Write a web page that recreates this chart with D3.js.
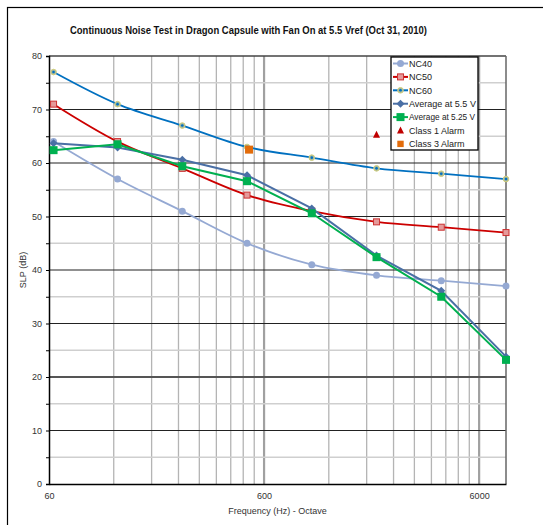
<!DOCTYPE html>
<html><head><meta charset="utf-8">
<script src="https://cdn.jsdelivr.net/npm/d3@7"></script>
<style>body{margin:0;background:#fff}svg{display:block;font-family:"Liberation Sans",Arial,sans-serif}</style>
</head><body>
<script>
const freqs = [63, 125, 250, 500, 1000, 2000, 4000, 8000];
const nc40 = [64, 57, 51, 45, 41, 39, 38, 37];
const nc50 = [71, 64, 59, 54, 51, 49, 48, 47];
const nc60 = [77, 71, 67, 63, 61, 59, 58, 57];
const avg55 = [63.7, 62.9, 60.6, 57.7, 51.5, 42.7, 36.1, 23.8];
const avg525 = [62.4, 63.5, 59.4, 56.6, 50.6, 42.4, 35.0, 23.2];
const class1 = [{f: 2000, v: 65.3}];
const class3 = [{f: 500, v: 62.5}];
const yTicks = [0, 10, 20, 30, 40, 50, 60, 70, 80];
const xTickLabels = [60, 600, 6000];
const titleText = "Continuous Noise Test in Dragon Capsule with Fan On at 5.5 Vref (Oct 31, 2010)";

const W = 543, H = 525;
const svg = d3.select("body").append("svg").attr("width", W).attr("height", H);
svg.append("rect").attr("x", 7.5).attr("y", 7.5).attr("width", W).attr("height", H).attr("fill", "#fff").attr("stroke", "#000").attr("stroke-width", 1.2);

const x = d3.scaleLog().domain([60, 8000]).range([49, 506]);
const y = d3.scaleLinear().domain([0, 80]).range([484, 56]);

svg.append("text").attr("x", 248.5).attr("y", 34).attr("text-anchor", "middle")
  .attr("font-size", 11).attr("font-weight", "bold").attr("fill", "#111")
  .attr("textLength", 357).attr("lengthAdjust", "spacingAndGlyphs").text(titleText);

const g = svg.append("g");
// vertical grid
const minorX = [];
[60, 600, 6000].forEach(b => { for (let k = 2; k <= 9; k++) { const v = b * k; if (v < 8000) minorX.push(v); } });
g.selectAll(".vx").data(minorX).enter().append("line")
  .attr("x1", d => x(d)).attr("x2", d => x(d)).attr("y1", y(0)).attr("y2", y(80))
  .attr("stroke", "#b4b4b4").attr("stroke-width", 1.3);
g.selectAll(".vmaj").data([600, 6000]).enter().append("line")
  .attr("x1", d => x(d)).attr("x2", d => x(d)).attr("y1", y(0)).attr("y2", y(80))
  .attr("stroke", "#a0a0a0").attr("stroke-width", 2.2);
// horizontal grid
const minorY = d3.range(5, 80, 10);
g.selectAll(".hmin").data(minorY).enter().append("line")
  .attr("x1", x(60)).attr("x2", x(8000)).attr("y1", d => y(d)).attr("y2", d => y(d))
  .attr("stroke", "#cfcfcf").attr("stroke-width", 1.6);
g.selectAll(".hmaj").data(yTicks.filter(d => d > 0 && d < 80)).enter().append("line")
  .attr("x1", x(60)).attr("x2", x(8000)).attr("y1", d => y(d)).attr("y2", d => y(d))
  .attr("stroke", d => d === 20 ? "#555" : "#222").attr("stroke-width", d => d === 20 ? 1.8 : 1.2);
// plot border
g.append("line").attr("x1", x(60)).attr("x2", x(8000)).attr("y1", y(80)).attr("y2", y(80)).attr("stroke", "#444").attr("stroke-width", 1.5);
g.append("line").attr("x1", x(8000)).attr("x2", x(8000)).attr("y1", y(0)).attr("y2", y(80)).attr("stroke", "#666").attr("stroke-width", 1.5);

// axes
const yAxis = d3.axisLeft(y).tickValues(d3.range(0, 81, 5)).tickSize(3).tickFormat(d => d % 10 === 0 ? d : "");
const ya = svg.append("g").attr("transform", `translate(${x(60)},0)`).call(yAxis);
ya.select(".domain").attr("stroke", "#000").attr("stroke-width", 1.5);
ya.selectAll(".tick line").attr("stroke", "#000");
ya.selectAll("text").attr("font-size", 9).attr("fill", "#333").attr("font-family", "Liberation Sans, Arial, sans-serif").attr("x", -7);

const xAxis = d3.axisBottom(x).tickValues(xTickLabels).tickSize(0).tickFormat(d3.format("d"));
const xa = svg.append("g").attr("transform", `translate(0,${y(0)})`).call(xAxis);
xa.select(".domain").attr("stroke", "#000").attr("stroke-width", 1.5);
xa.selectAll("text").attr("font-size", 9).attr("fill", "#333").attr("font-family", "Liberation Sans, Arial, sans-serif").attr("y", 9);

svg.append("text").attr("x", 277.5).attr("y", 514).attr("text-anchor", "middle").attr("font-size", 9).attr("fill", "#333").text("Frequency (Hz) - Octave");
svg.append("text").attr("transform", "translate(26,270) rotate(-90)").attr("text-anchor", "middle").attr("font-size", 9).attr("fill", "#333").text("SLP (dB)");

// series
const smooth = d3.line().x((d, i) => x(freqs[i])).y(d => y(d)).curve(d3.curveCatmullRom.alpha(0));
const straight = d3.line().x((d, i) => x(freqs[i])).y(d => y(d));

const series = [
  {name: "NC40", data: nc40, color: "#95a9d3", w: 1.8, line: smooth, marker: "circle"},
  {name: "NC50", data: nc50, color: "#cc0000", w: 1.8, line: smooth, marker: "sqo"},
  {name: "NC60", data: nc60, color: "#0070c0", w: 1.8, line: smooth, marker: "star"},
  {name: "Average at 5.5 V", data: avg55, color: "#4a6fa5", w: 2, line: straight, marker: "diamond"},
  {name: "Average at 5.25 V", data: avg525, color: "#00b050", w: 2, line: straight, marker: "square"}
];

function drawMarker(sel, type, color) {
  if (type === "circle") sel.append("circle").attr("r", 3.5).attr("fill", color);
  else if (type === "sqo") sel.append("rect").attr("x", -3).attr("y", -3).attr("width", 6).attr("height", 6).attr("fill", "#e59a9a").attr("stroke", "#cc3333").attr("stroke-width", 1);
  else if (type === "star") { sel.append("circle").attr("r", 2.8).attr("fill", "#9fb4a0").attr("stroke", "#d4d07a").attr("stroke-width", 1); sel.append("circle").attr("r", 1.3).attr("fill", color); }
  else if (type === "diamond") sel.append("path").attr("d", "M0,-4L4,0L0,4L-4,0Z").attr("fill", color);
  else if (type === "square") sel.append("rect").attr("x", -4).attr("y", -4).attr("width", 8).attr("height", 8).attr("fill", color);
  else if (type === "tri") sel.append("path").attr("d", "M0,-4L3.5,3L-3.5,3Z").attr("fill", color);
  else if (type === "osq") sel.append("rect").attr("x", -4).attr("y", -4).attr("width", 8).attr("height", 8).attr("fill", color);
}

series.forEach(s => {
  svg.append("path").attr("d", s.line(s.data)).attr("fill", "none").attr("stroke", s.color).attr("stroke-width", s.w);
  s.data.forEach((v, i) => {
    const m = svg.append("g").attr("transform", `translate(${x(freqs[i])},${y(v)})`);
    drawMarker(m, s.marker, s.color);
  });
});
class1.forEach(d => drawMarker(svg.append("g").attr("transform", `translate(${x(d.f)},${y(d.v)})`), "tri", "#c00000"));
class3.forEach(d => drawMarker(svg.append("g").attr("transform", `translate(${x(d.f) + 2},${y(d.v)})`), "osq", "#e36c0a"));

// legend
const lg = svg.append("g");
lg.append("rect").attr("x", 391).attr("y", 57).attr("width", 87).attr("height", 93).attr("fill", "#fff").attr("stroke", "#000").attr("stroke-width", 1.3);
const legendItems = series.map(s => ({name: s.name, color: s.color, marker: s.marker, line: true}))
  .concat([{name: "Class 1 Alarm", color: "#c00000", marker: "tri", line: false}, {name: "Class 3 Alarm", color: "#e36c0a", marker: "osq", line: false}]);
legendItems.forEach((it, i) => {
  const yy = 63.5 + i * 13.4;
  if (it.line) lg.append("line").attr("x1", 393).attr("x2", 408).attr("y1", yy).attr("y2", yy).attr("stroke", it.color).attr("stroke-width", 2);
  const m = lg.append("g").attr("transform", `translate(400.5,${yy})`);
  drawMarker(m, it.marker, it.color);
  if (it.marker === "osq") m.attr("transform", `translate(400.5,${yy}) scale(0.8)`);
  const t = lg.append("text").attr("x", 409).attr("y", yy + 3.3).attr("font-size", 9).attr("fill", "#222").text(it.name);
  if (it.name === "Average at 5.25 V") t.attr("textLength", 66).attr("lengthAdjust", "spacingAndGlyphs");
});
</script>
</body></html>
